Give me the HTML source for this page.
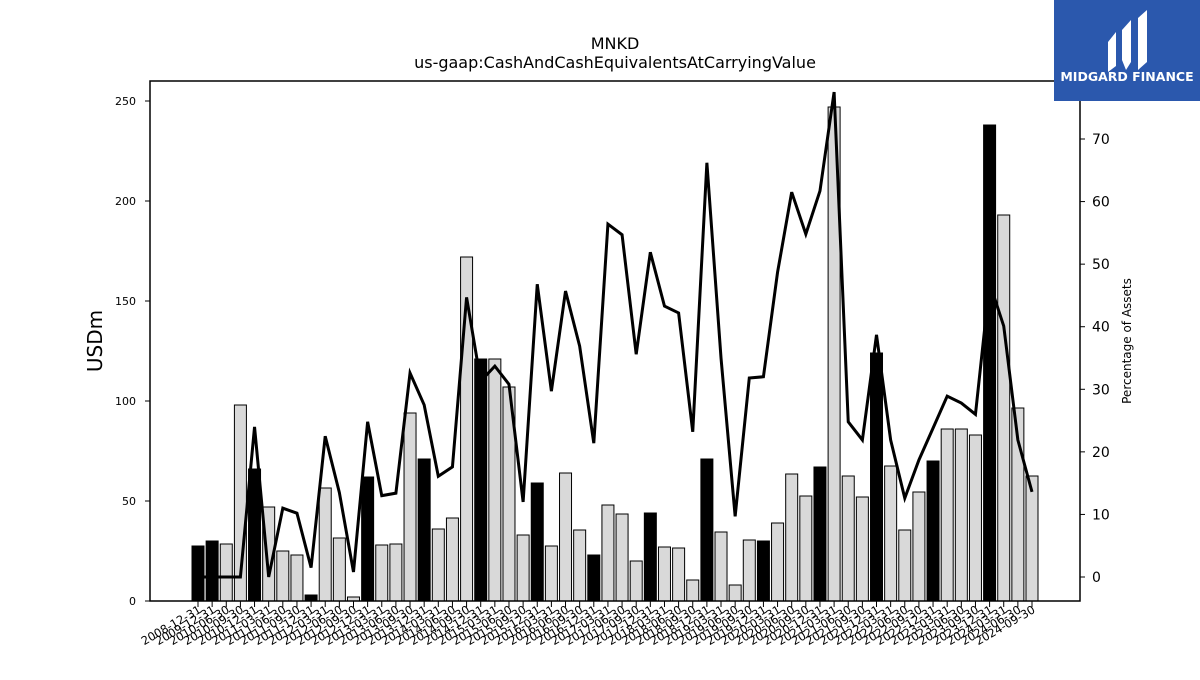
<!DOCTYPE html>
<html><head><meta charset="utf-8"><style>
html,body{margin:0;padding:0;background:#fff;}
svg text{font-family:"DejaVu Sans","Liberation Sans",sans-serif;}
</style></head><body>
<svg id="chart" width="1200" height="675" xmlns="http://www.w3.org/2000/svg">
<rect width="1200" height="675" fill="#fff"/>
<text x="615" y="49" text-anchor="middle" font-size="16">MNKD</text>
<text x="615" y="68" text-anchor="middle" font-size="16">us-gaap:CashAndCashEquivalentsAtCarryingValue</text>
<g id="bars"></g>
<g id="line"></g>
<rect x="150" y="81" width="930" height="520" fill="none" stroke="#000" stroke-width="1.5"/>
<g id="axes"></g>
<text transform="translate(102,341) rotate(-90)" text-anchor="middle" font-size="20">USDm</text>
<text transform="translate(1131,341) rotate(-90)" text-anchor="middle" font-size="12">Percentage of Assets</text>
<g>
<rect x="1054" y="0" width="146" height="101" fill="#2b58ad"/>
<path d="M1108 42 L1116 32 L1116 66 L1108 72 Z" fill="#fff"/>
<path d="M1122 30 L1131 20 L1131 62 L1126 70 L1122 60 Z" fill="#fff"/>
<path d="M1138 18 L1147 10 L1147 62 L1138 70 Z" fill="#fff"/>
<text x="1127" y="81" text-anchor="middle" font-size="12.5" font-weight="bold" fill="#fff">MIDGARD FINANCE</text>
</g>
</svg>
<script>
const categories=["2008-12-31","2009-12-31","2010-06-30","2010-09-30","2010-12-31","2011-03-31","2011-06-30","2011-09-30","2011-12-31","2012-03-31","2012-06-30","2012-09-30","2012-12-31","2013-03-31","2013-06-30","2013-09-30","2013-12-31","2014-03-31","2014-06-30","2014-09-30","2014-12-31","2015-03-31","2015-06-30","2015-09-30","2015-12-31","2016-03-31","2016-06-30","2016-09-30","2016-12-31","2017-03-31","2017-06-30","2017-09-30","2017-12-31","2018-03-31","2018-06-30","2018-09-30","2018-12-31","2019-03-31","2019-06-30","2019-09-30","2019-12-31","2020-03-31","2020-06-30","2020-09-30","2020-12-31","2021-03-31","2021-06-30","2021-09-30","2021-12-31","2022-03-31","2022-06-30","2022-09-30","2022-12-31","2023-03-31","2023-06-30","2023-09-30","2023-12-31","2024-03-31","2024-06-30","2024-09-30"];
const cashValues=[27.5,30,28.5,98,66,47,25,23,3,56.5,31.5,2,62,28,28.5,94,71,36,41.5,172,121,121,107,33,59,27.5,64,35.5,23,48,43.5,20,44,27,26.5,10.5,71,34.5,8,30.5,30,39,63.5,52.5,67,247,62.5,52,124,67.5,35.5,54.5,70,86,86,83,238,193,96.5,62.5];
const pctValues=[0,0,0,0,24,0,11,10.2,1.5,22.5,13.5,0.8,24.8,13,13.4,32.6,27.5,16.1,17.6,44.7,31.3,33.7,30.8,12,46.8,29.7,45.7,36.9,21.4,56.4,54.7,35.6,51.9,43.3,42.2,23.2,66.2,35,9.7,31.8,32,48.7,61.5,54.8,61.7,77.5,24.8,21.9,38.7,21.9,12.6,18.7,23.8,28.9,27.8,26,47,40.1,21.9,13.6];
const leftTicks=[0,50,100,150,200,250];
const rightTicks=[0,10,20,30,40,50,60,70];
const NS="http://www.w3.org/2000/svg";
const x0=198,x1=1032;
function xPos(i){return x0+(x1-x0)*i/(categories.length-1);}
function yL(v){return 601-2*v;}
function yR(v){return 577-6.257*v;}
function mk(tag,attrs,parent){const e=document.createElementNS(NS,tag);for(const k in attrs)e.setAttribute(k,attrs[k]);parent.appendChild(e);return e;}
const bars=document.getElementById('bars'),line=document.getElementById('line'),axes=document.getElementById('axes');
cashValues.forEach((v,i)=>{
  const yr=categories[i].endsWith("12-31");
  const r=mk('rect',{x:xPos(i)-6,y:yL(v),width:12,height:601-yL(v),fill:yr?'#000':'#d9d9d9',stroke:'#000','stroke-width':1},bars);
  
  
});
const p=mk('polyline',{points:pctValues.map((v,i)=>xPos(i)+','+yR(v)).join(' '),fill:'none',stroke:'#000','stroke-width':3,'stroke-linejoin':'miter'},line);


leftTicks.forEach(t=>{
  const l=mk('line',{x1:145,x2:150,y1:yL(t),y2:yL(t),stroke:'#000'},axes);
  
  
  const tx=mk('text',{x:136,y:yL(t)+4,'text-anchor':'end','font-size':11},axes);
  tx.textContent=t;
  
  
});
rightTicks.forEach(t=>{
  const l=mk('line',{x1:1080,x2:1085,y1:yR(t),y2:yR(t),stroke:'#000'},axes);
  
  
  const tx=mk('text',{x:1092,y:yR(t)+5,'text-anchor':'start','font-size':14},axes);
  tx.textContent=t;
  
  
});
categories.forEach((c,i)=>{
  const x=xPos(i);
  const l=mk('line',{x1:x,x2:x,y1:601,y2:607,stroke:'#000'},axes);
  
  
  const tx=mk('text',{transform:'translate('+(x+4)+',612) rotate(-30)','text-anchor':'end','font-size':11.5},axes);
  tx.textContent=c;
  
  
});
</script>
</body></html>
